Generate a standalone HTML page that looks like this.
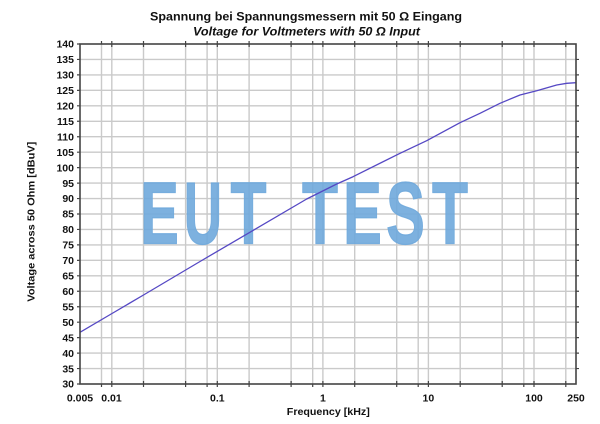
<!DOCTYPE html>
<html><head><meta charset="utf-8"><style>
html,body{margin:0;padding:0;background:#fff;}
svg{display:block;}
text{font-family:"Liberation Sans",Arial,sans-serif;}
</style></head><body>
<svg width="600" height="424" viewBox="0 0 600 424" xmlns="http://www.w3.org/2000/svg">
<rect width="600" height="424" fill="#fff"/>
<!-- titles -->
<text x="306" y="20.7" font-size="12" font-weight="bold" text-anchor="middle" fill="#111" textLength="312" lengthAdjust="spacingAndGlyphs">Spannung bei Spannungsmessern mit 50 Ω Eingang</text>
<text x="306.5" y="35.3" font-size="12" font-weight="bold" font-style="italic" text-anchor="middle" fill="#111" textLength="227" lengthAdjust="spacingAndGlyphs">Voltage for Voltmeters with 50 Ω Input</text>
<!-- grid -->
<g stroke="#cacaca" stroke-width="1.4" fill="none">
<path d="M80 59.45H576M80 74.91H576M80 90.36H576M80 105.82H576M80 121.27H576M80 136.73H576M80 152.18H576M80 167.64H576M80 183.09H576M80 198.55H576M80 214H576M80 229.45H576M80 244.91H576M80 260.36H576M80 275.82H576M80 291.27H576M80 306.73H576M80 322.18H576M80 337.64H576M80 353.09H576M80 368.55H576"/>
<path d="M101.5 44V384M111.8 44V384M143.5 44V384M185.6 44V384M207.1 44V384M217.3 44V384M249.1 44V384M291.1 44V384M312.7 44V384M322.9 44V384M354.7 44V384M396.7 44V384M418.2 44V384M428.4 44V384M460.2 44V384M502.2 44V384M523.8 44V384M534 44V384M565.8 44V384"/>
</g>
<!-- watermark -->
<g fill="#6fa8dc" stroke="#6fa8dc" stroke-width="1.2" fill-opacity="0.9" stroke-opacity="0.9" font-size="88" font-weight="bold" text-anchor="middle">
<text transform="translate(159.5,243.3) scale(0.66,1)">E</text>
<text transform="translate(203,243.3) scale(0.6,1)">U</text>
<text transform="translate(248.5,243.3) scale(0.67,1)">T</text>
<text transform="translate(320,243.3) scale(0.67,1)">T</text>
<text transform="translate(362.5,243.3) scale(0.66,1)">E</text>
<text transform="translate(405.5,243.3) scale(0.66,1)">S</text>
<text transform="translate(450,243.3) scale(0.67,1)">T</text>
</g>
<!-- curve -->
<polyline fill="none" stroke="#5548c4" stroke-width="1.3" stroke-linejoin="round" points="80,332.3 112,313.5 143.5,295 201.7,260.5 253.3,230.3 306.7,199 336.7,184 353.3,176.6 400,153.3 426.7,140.7 460,122.7 480,113.3 500,103.3 520,95 536.7,90.7 556.7,85 566.7,83.3 576,82.7"/>
<!-- axes -->
<rect x="80" y="44" width="496" height="340" fill="none" stroke="#444" stroke-width="1.6"/>
<g stroke="#444" stroke-width="1.2">
<path d="M77 44H80M77 59.45H80M77 74.91H80M77 90.36H80M77 105.82H80M77 121.27H80M77 136.73H80M77 152.18H80M77 167.64H80M77 183.09H80M77 198.55H80M77 214H80M77 229.45H80M77 244.91H80M77 260.36H80M77 275.82H80M77 291.27H80M77 306.73H80M77 322.18H80M77 337.64H80M77 353.09H80M77 368.55H80M77 384H80"/>
<path d="M576 59.45H579M576 74.91H579M576 90.36H579M576 105.82H579M576 121.27H579M576 136.73H579M576 152.18H579M576 167.64H579M576 183.09H579M576 198.55H579M576 214H579M576 229.45H579M576 244.91H579M576 260.36H579M576 275.82H579M576 291.27H579M576 306.73H579M576 322.18H579M576 337.64H579M576 353.09H579M576 368.55H579"/>
<path d="M101.5 384V387M111.8 381V387M143.5 381V387M185.6 381V387M207.1 384V387M217.3 381V387M249.1 381V387M291.1 381V387M312.7 384V387M322.9 381V387M354.7 381V387M396.7 381V387M418.2 384V387M428.4 381V387M460.2 381V387M502.2 381V387M523.8 384V387M534 381V387M565.8 381V387"/>
<path d="M101.5 41V44M111.8 41V47M143.5 41V47M185.6 41V47M207.1 41V44M217.3 41V47M249.1 41V47M291.1 41V47M312.7 41V44M322.9 41V47M354.7 41V47M396.7 41V47M418.2 41V44M428.4 41V47M460.2 41V47M502.2 41V47M523.8 41V44M534 41V47M565.8 41V47"/>
</g>
<!-- y tick labels -->
<g font-size="10.5" font-weight="bold" text-anchor="end" fill="#111">
<text x="74" y="47.7">140</text>
<text x="74" y="63.2">135</text>
<text x="74" y="78.6">130</text>
<text x="74" y="94.1">125</text>
<text x="74" y="109.5">120</text>
<text x="74" y="125">115</text>
<text x="74" y="140.4">110</text>
<text x="74" y="155.9">105</text>
<text x="74" y="171.3">100</text>
<text x="74" y="186.8">95</text>
<text x="74" y="202.2">90</text>
<text x="74" y="217.7">85</text>
<text x="74" y="233.2">80</text>
<text x="74" y="248.6">75</text>
<text x="74" y="264.1">70</text>
<text x="74" y="279.5">65</text>
<text x="74" y="295">60</text>
<text x="74" y="310.4">55</text>
<text x="74" y="325.9">50</text>
<text x="74" y="341.3">45</text>
<text x="74" y="356.8">40</text>
<text x="74" y="372.3">35</text>
<text x="74" y="387.7">30</text>
</g>
<!-- x tick labels -->
<g font-size="10.5" font-weight="bold" text-anchor="middle" fill="#111">
<text x="80" y="401.7">0.005</text>
<text x="111.5" y="401.7">0.01</text>
<text x="217.3" y="401.7">0.1</text>
<text x="322.9" y="401.7">1</text>
<text x="428.4" y="401.7">10</text>
<text x="534" y="401.7">100</text>
<text x="576" y="401.7">250</text>
</g>
<text x="328.3" y="415" font-size="10.5" font-weight="bold" text-anchor="middle" fill="#111" textLength="83" lengthAdjust="spacingAndGlyphs">Frequency [kHz]</text>
<text transform="translate(34.5,221.7) rotate(-90)" font-size="10.5" font-weight="bold" text-anchor="middle" fill="#111" textLength="160" lengthAdjust="spacingAndGlyphs">Voltage across 50 Ohm [dBuV]</text>
</svg>
</body></html>
